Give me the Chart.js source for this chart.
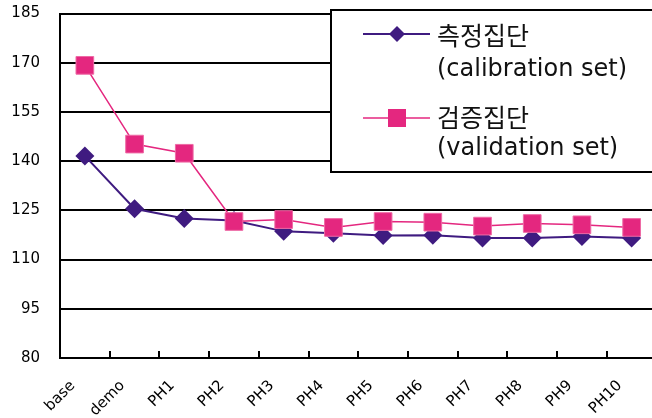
<!DOCTYPE html>
<html>
<head>
<meta charset="utf-8">
<script src="https://cdn.jsdelivr.net/npm/chart.js@4"></script>
<style>
  html, body { margin: 0; padding: 0; background: #fff; overflow: hidden; width: 652px; height: 418px; }
  canvas { position: absolute; left: 0; top: 0; }
</style>
</head>
<body>
<canvas id="c" width="670" height="418"></canvas>
<script>
const categories = ['base', 'demo', 'PH1', 'PH2', 'PH3', 'PH4', 'PH5', 'PH6', 'PH7', 'PH8', 'PH9', 'PH10'];
const calibration = [141.6, 125.5, 122.5, 121.9, 118.6, 118.0, 117.3, 117.4, 116.6, 116.6, 117.0, 116.6];
const validation = [169.2, 145.2, 142.4, 121.6, 122.2, 119.8, 121.6, 121.4, 120.2, 121.0, 120.6, 119.8];
const yTicks = [80, 95, 110, 125, 140, 155, 170, 185];

const seriesNames = [
  ['측정집단', '(calibration set)'],
  ['검증집단', '(validation set)']
];
const PURPLE = '#3f1b80';
const PINK = '#e4277f';
const FONT = '"DejaVu Sans", "Noto Sans CJK KR", sans-serif';

Chart.defaults.font.family = FONT;
Chart.defaults.font.size = 15;
Chart.defaults.color = '#000';

// short inward tick marks on the category axis, between categories
const innerTicks = {
  id: 'innerTicks',
  afterDatasetsDraw(chart) {
    const x = chart.scales.x, ctx = chart.ctx;
    const bottom = chart.chartArea.bottom;
    ctx.save();
    ctx.strokeStyle = '#000';
    ctx.lineWidth = 2;
    for (let i = 0; i < categories.length - 1; i++) {
      const px = Math.round((x.getPixelForValue(i) + x.getPixelForValue(i + 1)) / 2);
      ctx.beginPath();
      ctx.moveTo(px, bottom);
      ctx.lineTo(px, bottom - 7);
      ctx.stroke();
    }
    ctx.restore();
  }
};

// boxed legend in the upper right corner
const boxLegend = {
  id: 'boxLegend',
  afterDraw(chart) {
    const ctx = chart.ctx;
    ctx.save();
    ctx.fillStyle = '#fff';
    ctx.strokeStyle = '#000';
    ctx.lineWidth = 2;
    ctx.fillRect(331, 10, 340, 162);
    ctx.strokeRect(331, 10, 340, 162);

    const rows = [
      { y: 34, color: PURPLE, width: 2, style: 'diamond', lines: seriesNames[0], base: [45, 76] },
      { y: 118, color: PINK, width: 1.5, style: 'square', lines: seriesNames[1], base: [127, 155] }
    ];
    rows.forEach(r => {
      ctx.strokeStyle = r.color;
      ctx.lineWidth = r.width;
      ctx.beginPath();
      ctx.moveTo(363, r.y);
      ctx.lineTo(430, r.y);
      ctx.stroke();
      ctx.fillStyle = r.color;
      ctx.beginPath();
      if (r.style === 'diamond') {
        ctx.moveTo(397, r.y - 8);
        ctx.lineTo(405, r.y);
        ctx.lineTo(397, r.y + 8);
        ctx.lineTo(389, r.y);
        ctx.closePath();
      } else {
        ctx.rect(388, r.y - 9, 18, 18);
      }
      ctx.fill();
      ctx.fillStyle = '#111';
      ctx.textAlign = 'left';
      ctx.textBaseline = 'alphabetic';
      ctx.font = '25px "Noto Sans CJK KR", ' + FONT;
      ctx.fillText(r.lines[0], 437, r.base[0]);
      ctx.font = '24px ' + FONT;
      ctx.fillText(r.lines[1], 437, r.base[1]);
    });
    ctx.restore();
  }
};

new Chart(document.getElementById('c'), {
  type: 'line',
  data: {
    labels: categories,
    datasets: [
      {
        label: seriesNames[0].join(' '),
        data: calibration,
        borderColor: PURPLE,
        backgroundColor: PURPLE,
        borderWidth: 2,
        pointStyle: 'rectRot',
        pointRadius: 9.5,
        pointBorderWidth: 0,
        tension: 0,
        order: 2
      },
      {
        label: seriesNames[1].join(' '),
        data: validation,
        borderColor: PINK,
        backgroundColor: PINK,
        borderWidth: 1.5,
        pointStyle: 'rect',
        pointRadius: 12.5,
        pointBorderColor: '#ee6aa5',
        pointBorderWidth: 1,
        tension: 0,
        order: 1
      }
    ]
  },
  options: {
    responsive: false,
    animation: false,
    events: [],
    layout: { padding: { top: 12, right: 10, left: 0, bottom: 0 } },
    plugins: { legend: { display: false }, tooltip: { enabled: false } },
    scales: {
      x: {
        offset: true,
        grid: { display: false, drawTicks: false },
        border: { display: true, color: '#000', width: 2 },
        ticks: {
          color: '#000',
          font: { family: FONT, size: 15 },
          minRotation: 45,
          maxRotation: 45,
          autoSkip: false,
          padding: 19,
          labelOffset: -12
        },
        afterFit(s) { s.height = 60; s.paddingLeft = 0; s.paddingRight = 0; }
      },
      y: {
        min: 80,
        max: 185,
        afterBuildTicks(s) { s.ticks = yTicks.map(v => ({ value: v })); },
        grid: { color: '#000', lineWidth: 2, drawTicks: false },
        border: { display: true, color: '#000', width: 2 },
        ticks: {
          color: '#000',
          font: { family: FONT, size: 15 },
          padding: 20
        },
        afterFit(s) { s.width = 60; s.paddingTop = 0; s.paddingBottom = 0; }
      }
    }
  },
  plugins: [innerTicks, boxLegend]
});
</script>
</body>
</html>
